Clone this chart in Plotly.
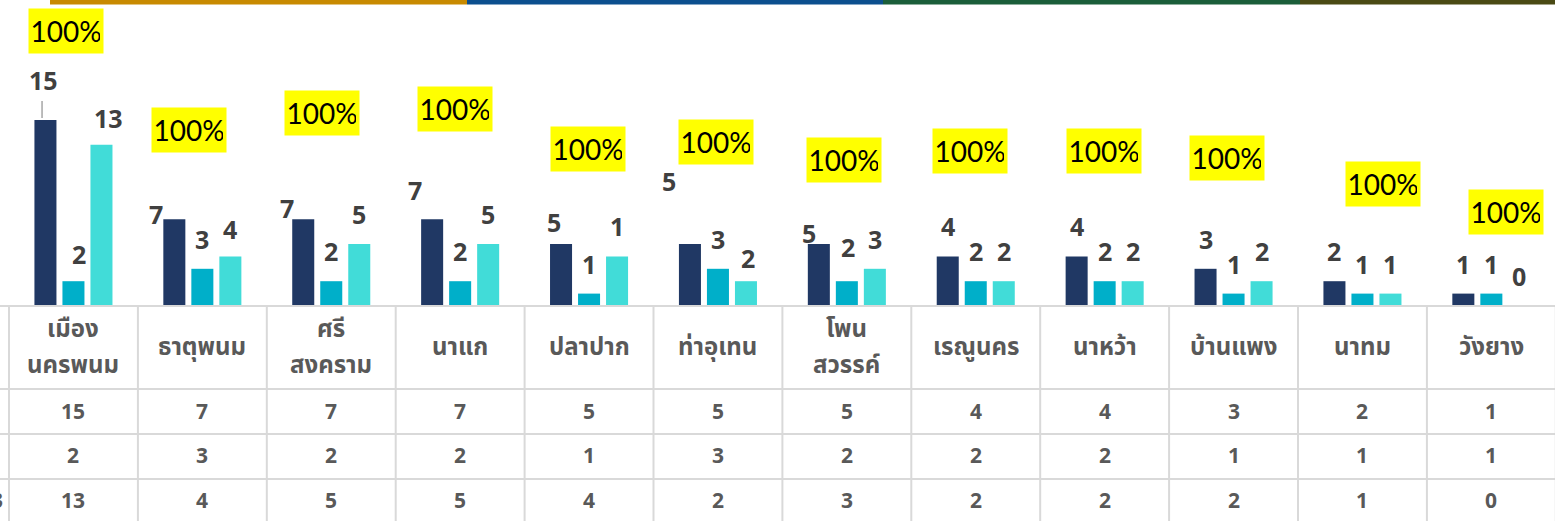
import plotly.graph_objects as go

# ---------------- data ----------------
districts = ["เมือง\nนครพนม", "ธาตุพนม", "ศรี\nสงคราม", "นาแก", "ปลาปาก", "ท่าอุเทน",
             "โพน\nสวรรค์", "เรณูนคร", "นาหว้า", "บ้านแพง", "นาทม", "วังยาง"]
series1 = [15, 7, 7, 7, 5, 5, 5, 4, 4, 3, 2, 1]
series2 = [2, 3, 2, 2, 1, 3, 2, 2, 2, 1, 1, 1]
series3 = [13, 4, 5, 5, 4, 2, 3, 2, 2, 2, 1, 0]
series3_label_text = ["13", "4", "5", "5", "1", "2", "3", "2", "2", "2", "1", "0"]
pct_values = [100] * 12

# ---------------- layout helpers ----------------
W, H = 1555, 521
COL_W = 128.9          # px per category
X0_PX = 9.0            # left edge of first column
BASE_PX = 306.0        # baseline pixel row
PX_PER_UNIT = 12.4

x_lo = -0.5 - X0_PX / COL_W
x_hi = x_lo + W / COL_W
y_top = BASE_PX / PX_PER_UNIT

colors = ["#203864", "#00AFC9", "#41DCD8"]
label_color = "#404040"
table_color = "#595959"
grid_color = "#D9D9D9"
num_font = "Open Sans, Lato, sans-serif"
thai_font = "Noto Sans Thai, Kanit, Prompt, Tahoma, Loma, Garuda, sans-serif"

fig = go.Figure()
series = [series1, series2, series3]
x_idx = list(range(len(districts)))
for s, vals in enumerate(series):
    fig.add_trace(go.Bar(x=x_idx, y=vals, marker=dict(color=colors[s], line=dict(width=0)),
                         showlegend=False, hoverinfo="skip"))

# bar value labels (offsets in px: dx, dy from bar top centre; dy negative = up)
bar_off_units = [-28 / COL_W, 0.0, 28 / COL_W]
label_nudge = {
    (0, 0): (-2, -40), (0, 1): (-18, -5), (0, 2): (-16, -11), (0, 3): (-17, -29),
    (0, 4): (-7, -22), (0, 5): (-21, -63), (0, 6): (-10, -11),
    (1, 0): (6, -27), (1, 6): (1, -34),
    (2, 0): (7, -27), (2, 1): (0, -27), (2, 5): (2, -23),
}
texts = [[str(v) for v in series1], [str(v) for v in series2], series3_label_text]
annotations = []
for s, vals in enumerate(series):
    for i, v in enumerate(vals):
        dx, dy = label_nudge.get((s, i), (0, -30))
        annotations.append(dict(x=i + bar_off_units[s], y=v, xref="x", yref="y",
                                text=texts[s][i], showarrow=False, xshift=dx, yshift=-dy,
                                xanchor="center", yanchor="middle",
                                font=dict(family=num_font, size=25, color=label_color,
                                          weight="bold")))

# leader line for first label
shapes = [dict(type="line", xref="x", yref="y",
               x0=(42 - 73.4) / COL_W, x1=(42 - 73.4) / COL_W,
               y0=series1[0] + 2 / PX_PER_UNIT, y1=series1[0] + 19 / PX_PER_UNIT,
               line=dict(color="#A6A6A6", width=1.5))]

# percentage labels (yellow boxes)
pct_label_y = [22.2, 14.2, 15.6, 15.9, 12.7, 13.2, 11.8, 12.5, 12.5, 11.9, 9.8, 7.6]
pct_label_dx = [-7, -13, -9, -5, -1, -2, -3, -6, -1, -7, 21, 15]
for i, p in enumerate(pct_values):
    annotations.append(dict(x=i, y=pct_label_y[i], xref="x", yref="y", text=f"{p}%",
                            showarrow=False, xshift=pct_label_dx[i], bgcolor="#FFFF00",
                            borderpad=3, width=68, height=38,
                            xanchor="center", yanchor="middle",
                            font=dict(family="Lato, sans-serif", size=28, color="#000000")))

# top colour stripes
stripe_cols = ["#C88A00", "#0C4F8E", "#1B5E3A", "#4A4A14"]
stripe_x = [50, 467, 883, 1300, 1555]
for k, c in enumerate(stripe_cols):
    shapes.append(dict(type="rect", xref="paper", yref="paper",
                       x0=stripe_x[k] / W, x1=stripe_x[k + 1] / W,
                       y0=1 - 4.5 / H, y1=1, fillcolor=c, line=dict(width=0), layer="above"))

# data table
def py(p):
    return 1 - p / H

row_lines = [BASE_PX, 389, 434, 479]
for p in row_lines:
    shapes.append(dict(type="line", xref="paper", yref="paper", x0=0, x1=1, y0=py(p), y1=py(p),
                       line=dict(color=grid_color, width=2)))
for i in range(len(districts) + 1):
    shapes.append(dict(type="line", xref="x", yref="paper", x0=i - 0.5, x1=i - 0.5,
                       y0=0, y1=py(BASE_PX), line=dict(color=grid_color, width=2)))

header_center = 347.5
for i, name in enumerate(districts):
    lines = name.split("\n")
    n = len(lines)
    for j, ln in enumerate(lines):
        yc = header_center + (j - (n - 1) / 2) * 36
        annotations.append(dict(x=i, y=py(yc), xref="x", yref="paper", text=ln, showarrow=False,
                                xanchor="center", yanchor="middle",
                                font=dict(family=thai_font, size=24, color=table_color,
                                          weight="bold")))
row_centers = [411, 455, 500]
for r, vals in enumerate(series):
    for i, v in enumerate(vals):
        annotations.append(dict(x=i, y=py(row_centers[r]), xref="x", yref="paper", text=str(v),
                                showarrow=False, xanchor="center", yanchor="middle",
                                font=dict(family=num_font, size=21, color=table_color,
                                          weight="bold")))
# clipped row-label fragment at the far left
annotations.append(dict(x=5 / W, y=py(500), xref="paper", yref="paper", text="3", xanchor="right",
                        yanchor="middle", showarrow=False,
                        font=dict(family=num_font, size=21, color=table_color, weight="bold")))

fig.update_layout(
    width=W, height=H, margin=dict(l=0, r=0, t=0, b=0),
    paper_bgcolor="white", plot_bgcolor="white",
    barmode="group", bargap=0.348, bargroupgap=0.214,
    xaxis=dict(range=[x_lo, x_hi], visible=False, fixedrange=True),
    yaxis=dict(range=[0, y_top], domain=[1 - BASE_PX / H, 1], visible=False, fixedrange=True),
    shapes=shapes, annotations=annotations,
)
fig.write_html("out.html", config={"displayModeBar": False},
               post_script="document.body.style.margin='0';document.body.style.overflow='hidden';")
